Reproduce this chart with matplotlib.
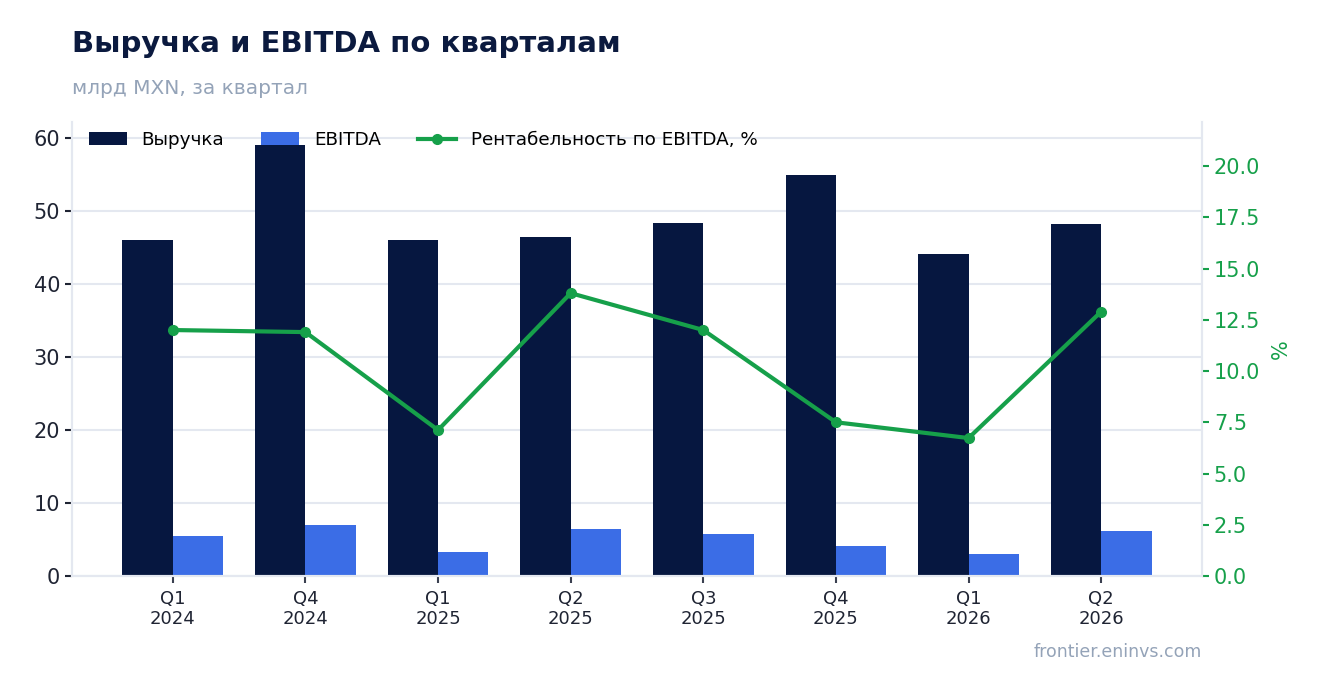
import numpy as np
import matplotlib
matplotlib.use('Agg')
import matplotlib.pyplot as plt

# Quarterly revenue, EBITDA (bn MXN) and EBITDA margin (%)
quarters = ['Q1\n2024', 'Q4\n2024', 'Q1\n2025', 'Q2\n2025', 'Q3\n2025', 'Q4\n2025', 'Q1\n2026', 'Q2\n2026']
revenue = [46.0, 59.0, 46.0, 46.4, 48.4, 54.9, 44.1, 48.2]
ebitda = [5.5, 7.0, 3.3, 6.4, 5.75, 4.1, 3.0, 6.2]
margin = [12.0, 11.9, 7.12, 13.8, 12.0, 7.5, 6.73, 12.9]

navy = '#061740'
blue = '#3B6DE6'
green = '#16A04A'
grid_col = '#E4E8F0'
text_dark = '#1F2433'

plt.rcParams['font.family'] = ['DejaVu Sans']

fig = plt.figure(figsize=(13.23, 6.93), dpi=100)
ax = fig.add_axes([72 / 1323, 1 - 576 / 693, (1202 - 72) / 1323, (576 - 122) / 693])
ax2 = ax.twinx()

x = np.arange(len(quarters))
w = 0.38
ax.bar(x - w / 2, revenue, w, color=navy, label='Выручка', zorder=2)
ax.bar(x + w / 2, ebitda, w, color=blue, label='EBITDA', zorder=2)
ax2.plot(x, margin, color=green, lw=3, marker='o', ms=7,
         label='Рентабельность по EBITDA, %', zorder=3)

ax.set_xlim(-0.76, len(quarters) - 1 + 0.76)
ax.set_ylim(0, 62.2)
ax.set_yticks(np.arange(0, 61, 10))
ax2.set_ylim(0, 22.15)
ax2.set_yticks(np.arange(0, 20.1, 2.5))
ax2.set_yticklabels([f'{v:.1f}' for v in np.arange(0, 20.1, 2.5)])

ax.set_xticks(x)
ax.set_xticklabels(quarters, fontsize=13, color=text_dark, linespacing=1.15)
ax.grid(axis='y', color=grid_col, lw=1.5, zorder=0)
ax.set_axisbelow(True)

for a in (ax, ax2):
    for s in a.spines.values():
        s.set_color(grid_col)
        s.set_linewidth(1.5)
    a.spines['top'].set_visible(False)

ax.tick_params(axis='y', labelsize=15, colors=text_dark, length=5, width=1.5)
ax.tick_params(axis='x', colors='#3A4050', labelcolor=text_dark, length=5, width=1.5, pad=5)
ax2.tick_params(axis='y', labelsize=15, colors=green, length=5, width=1.5)
ax2.set_ylabel('%', color=green, fontsize=15, labelpad=8)

h1, l1 = ax.get_legend_handles_labels()
h2, l2 = ax2.get_legend_handles_labels()
ax2.legend(h1 + h2, l1 + l2, loc='upper left', ncol=3, frameon=False,
           fontsize=13.2, bbox_to_anchor=(0.0, 1.016), handlelength=2.1,
           columnspacing=2.0)

fig.text(72 / 1323, 1 - 44 / 693, 'Выручка и EBITDA по кварталам', fontsize=21,
         fontweight='bold', color='#0B1A3F', va='center', ha='left')
fig.text(72 / 1323, 1 - 88 / 693, 'млрд MXN, за квартал', fontsize=14.5,
         color='#94A3B8', va='center', ha='left')
fig.text(1202 / 1323, 1 - 652 / 693, 'frontier.eninvs.com', fontsize=12.5,
         color='#94A3B8', va='center', ha='right')

fig.savefig('out.png', dpi=100, facecolor='white')
